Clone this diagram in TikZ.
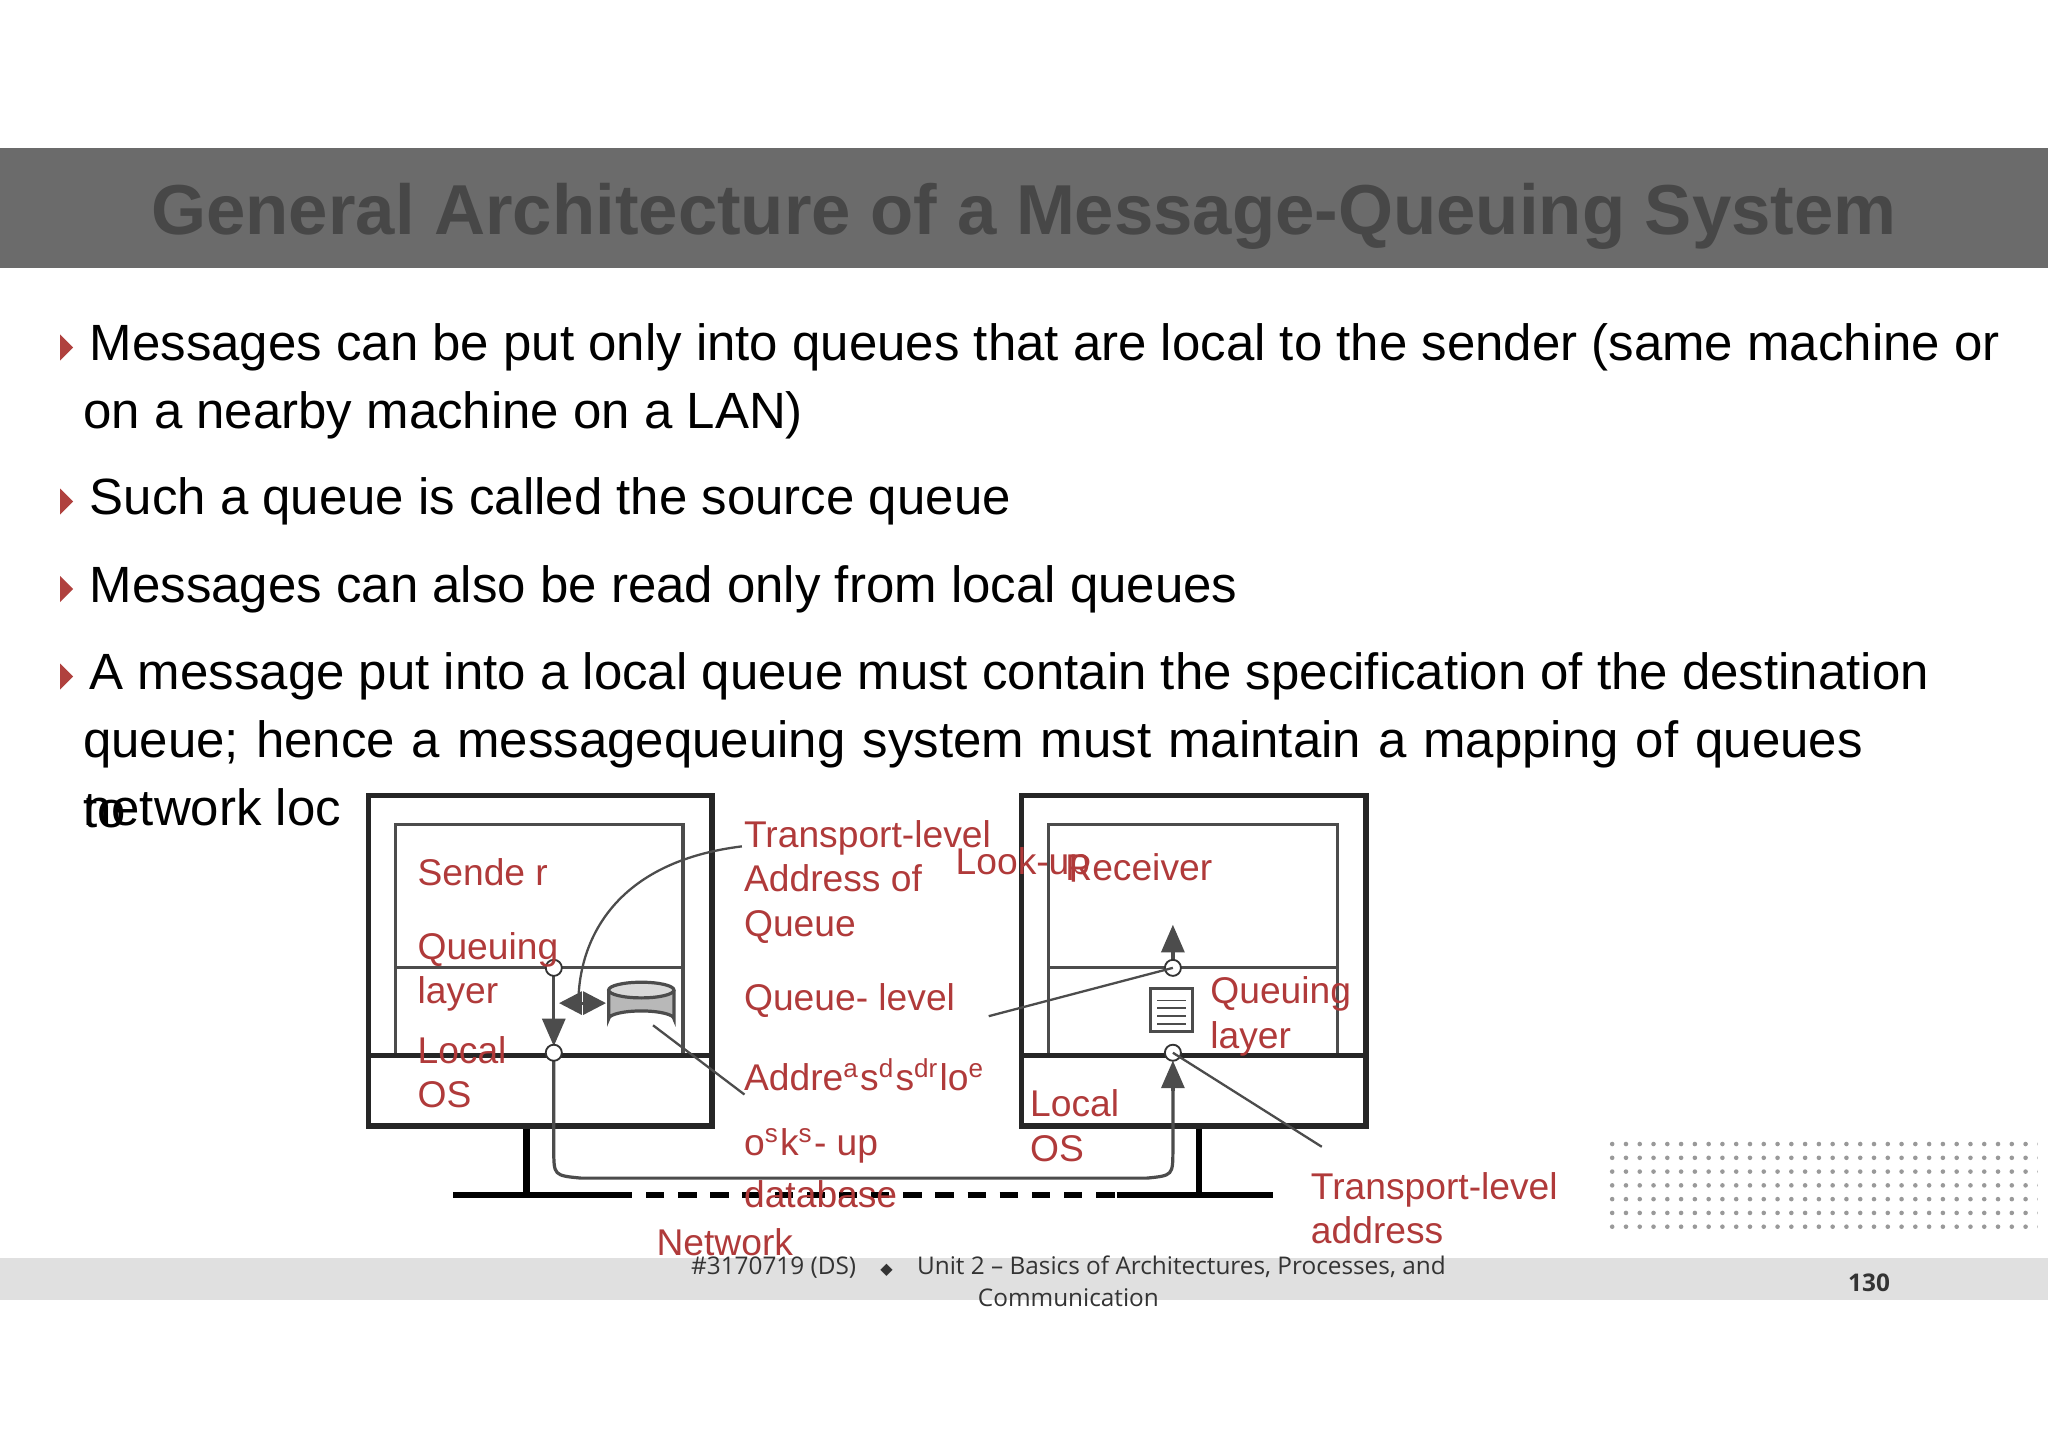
\documentclass[tikz,border=0pt]{standalone}
\usepackage{fontspec}
\setmainfont{Liberation Sans}
\newfontfamily\footfont{Open Sans}
\newfontfamily\symfont{DejaVu Sans}
\usetikzlibrary{arrows.meta,patterns}
\definecolor{lab}{HTML}{B03A3A}
\definecolor{bul}{HTML}{B0413E}
\tikzset{
 lbl/.style={text=lab,font=\fontsize{8.1}{9.7}\selectfont,anchor=west,inner sep=0pt,align=left},
 body/.style={font=\fontsize{11.1}{12.5}\selectfont,anchor=west,inner sep=0pt},
 frame/.style={draw=black!85,line width=1.2pt},
 thin/.style={draw=black!70,line width=0.7pt},
 dot/.style={circle,draw=black!80,fill=white,inner sep=0pt,minimum size=3.5pt},
 tip/.style={-{Triangle[length=6pt,width=5pt]}}
}
\begin{document}
\begin{tikzpicture}[x=0.01cm,y=-0.01cm]
\useasboundingbox (0,0) rectangle (1568,1108);
\fill[white] (0,0) rectangle (1568,1108);
% header
\fill[black!58] (0,113) rectangle (1568,205);
\node[font=\fontsize{15.4}{17}\selectfont\bfseries,text=black!72] (title) at (784,166) {General Architecture of a Message-Queuing System};
% bullets
\foreach \y in {266,384,451,518}{\fill[bul] (46,\y-10) -- (56,\y) -- (46,\y+10) -- cycle;}
\node[body] (b1) at (68,266) {Messages can be put only into queues that are local to the sender (same machine or};
\node[body] (b1b) at (63,318) {on a nearby machine on a LAN)};
\node[body] (b2) at (68,384) {Such a queue is called the source queue};
\node[body] (b3) at (68,451) {Messages can also be read only from local queues};
\node[body] (b4) at (68,518) {A message put into a local queue must contain the specification of the destination};
\node[body,text width=14.5cm] (b4b) at (63,570) {\parfillskip=0pt queue; hence a messagequeuing system must maintain a mapping of queues};
\node[body] (b4c) at (63,618) {network loc};
\node[body] (b4d) at (63,621) {to};
% network
\draw[line width=1.4pt] (347,915) -- (470,915);
\draw[line width=1.4pt,dash pattern=on 4pt off 3pt] (470,915) -- (855,915);
\draw[line width=1.4pt] (855,915) -- (975,915);
\draw[line width=1.4pt] (403,862) -- (403,915);
\draw[line width=1.4pt] (918,862) -- (918,915);
% sender
\draw[frame,fill=white] (282,609) rectangle (545,862);
\draw[thin] (303,631) rectangle (523,808);
\draw[thin] (303,741) -- (523,741);
\draw[frame] (282,808) -- (545,808);
% receiver
\draw[frame,fill=white] (782,609) rectangle (1046,862);
\draw[thin] (803,631) rectangle (1024,808);
\draw[thin] (803,741) -- (1024,741);
\draw[frame] (782,808) -- (1046,808);
% path
\draw[thin] (424,806) -- (424,880) .. controls (424,900) .. (445,902) -- (878,902) .. controls (898,900) .. (898,880) -- (898,830);
\draw[thin,tip] (898,835) -- (898,812);
\draw[thin,tip] (424,741) -- (424,801);
\draw[thin,tip] (898,741) -- (898,708);
\draw[thin,{Triangle[length=5pt,width=5pt]}-{Triangle[length=5pt,width=5pt]}] (428,768) -- (464,768);
\node[dot] (c1) at (424,741) {};
\node[dot] (c2) at (424,806) {};
\node[dot] (c3) at (898,741) {};
\node[dot] (c4) at (898,806) {};
% disk
\draw[thin,fill=black!28] (466,758) -- (466,780) arc[start angle=180,end angle=360,x radius=25,y radius=6] -- (516,758);
\draw[thin,fill=black!15] (491,758) ellipse[x radius=25,y radius=6];
% queue icon
\draw[thin,fill=white] (881,757) rectangle (913,790);
\foreach \yy in {766,772,778,784}{\draw[black!70,line width=0.4pt] (886,\yy) -- (908,\yy);}
% leaders
\draw[thin,line width=0.5pt] (568,648) .. controls (470,660) and (445,720) .. (443,762);
\draw[thin,line width=0.5pt] (500,785) -- (570,838);
\draw[thin,line width=0.5pt] (757,778) -- (898,741);
\draw[thin,line width=0.5pt] (898,806) -- (1012,878);
% labels
\node[lbl] (snd) at (319,668) {Sende r};
\node[lbl] (ql1) at (319,744) {Queuing\\layer};
\node[lbl] (os1) at (319,821) {Local\\OS};
\node[lbl] (tla) at (569,675) {Transport-level\\Address of\\Queue};
\node[lbl] (lku) at (731,662) {Look-up};
\node[lbl] (rcv) at (815,664) {Receiver};
\node[lbl] (qlv) at (569,766) {Queue- level};
\node[lbl] (adr) at (569,823) {Addre$^{\mathrm{a}}$s$^{\mathrm{d}}$s$^{\mathrm{dr}}$lo$^{\mathrm{e}}$};
\node[lbl] (osk) at (569,877) {o$^{\mathrm{s}}$k$^{\mathrm{s}}$- up};
\node[lbl] (db) at (569,914) {database};
\node[lbl] (ql2) at (926,778) {Queuing\\layer};
\node[lbl] (os2) at (788,862) {Local\\OS};
\node[lbl] (tl2) at (1003,925) {Transport-level\\address};
% footer
\fill[black!12] (0,963) rectangle (1568,995);
\node[lbl] (net) at (502,951) {Network};
\fill[pattern=dots,pattern color=black!40] (1232,870) rectangle (1560,947);
\node[font=\footfont\fontsize{5.3}{6.9}\selectfont,text=black!80,align=center] (ft) at (818,981) {\#3170719 (DS)\quad{\symfont\fontsize{3.5}{4}\selectfont ◆}\quad Unit 2 – Basics of Architectures, Processes, and\\Communication};
\node[font=\footfont\bfseries\fontsize{5.3}{7}\selectfont,text=black!80] (pg) at (1431,982) {130};
\end{tikzpicture}
\end{document}
